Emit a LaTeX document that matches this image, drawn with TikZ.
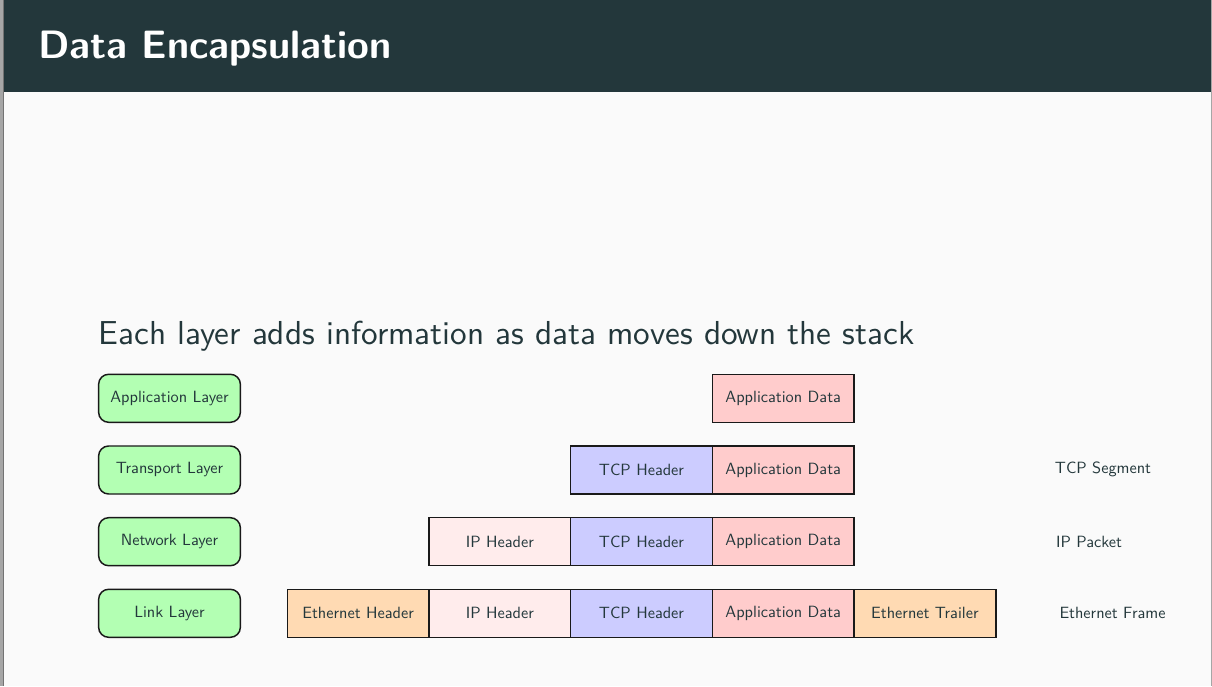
\documentclass[tikz,border=0pt]{standalone}
\usepackage{fontspec}
\newfontfamily\lmsten{lmsans10-regular.otf}[BoldFont=lmsans10-bold.otf]
\usetikzlibrary{positioning}
\definecolor{mteal}{HTML}{23373B}
\definecolor{pagebg}{HTML}{FAFAFA}
\definecolor{layerfill}{HTML}{B3FFB3}
\definecolor{appfill}{HTML}{FFCCCC}
\definecolor{tcpfill}{HTML}{CCCCFF}
\definecolor{ipfill}{HTML}{FFECEC}
\definecolor{ethfill}{HTML}{FFDAB3}
\definecolor{edgegray}{HTML}{A6A6A6}
\tikzset{
  boxfont/.style={font=\lmsten\fontsize{12.2}{14}\selectfont, text=mteal},
  layerbox/.style={boxfont, draw=black!90, line width=1.1pt, fill=layerfill,
    rounded corners=7.5pt, minimum width=106.3pt, minimum height=36pt,
    inner sep=0pt, outer sep=0pt},
  databox/.style={boxfont, draw=black!90, line width=1.1pt,
    minimum width=106.3pt, minimum height=36pt, inner sep=0pt, outer sep=0pt},
  appbox/.style={databox, fill=appfill},
  tcpbox/.style={databox, fill=tcpfill},
  ipbox/.style={databox, fill=ipfill},
  ethbox/.style={databox, fill=ethfill},
  unitlabel/.style={boxfont, inner sep=0pt},
}
\begin{document}
\begin{tikzpicture}[x=0.75pt, y=-0.75pt]
  % page frame
  \useasboundingbox (0,0) rectangle (1212,686);
  \fill[edgegray] (0,0) rectangle (1212,686);
  \fill[pagebg] (3.6,0) rectangle (1210.6,686);
  \fill[black!55] (2.8,0) rectangle (3.6,686);
  % title bar
  \fill[mteal] (3.6,0) rectangle (1210.6,92);
  \node[anchor=base west, inner sep=0pt, text=white,
        font=\lmsten\bfseries\fontsize{29.7}{34}\selectfont] (title) at (38,58.3) {Data Encapsulation};
  % subtitle
  \node[anchor=base west, inner sep=0pt, text=mteal,
        font=\lmsten\fontsize{24.9}{29}\selectfont] (sub) at (98.5,344.3) {Each layer adds information as data moves down the stack};
  % layer boxes
  \node[layerbox] (L1) at (169.5,398.3) {Application Layer};
  \node[layerbox] (L2) at (169.5,470) {Transport Layer};
  \node[layerbox] (L3) at (169.5,541.7) {Network Layer};
  \node[layerbox] (L4) at (169.5,613.3) {Link Layer};
  % row 1
  \node[appbox] (A1) at (783.2,398.3) {Application Data};
  % row 2
  \node[tcpbox] (T2) at (641.5,470) {TCP Header};
  \node[appbox] (A2) at (783.2,470) {Application Data};
  % row 3
  \node[ipbox]  (I3) at (499.8,541.7) {IP Header};
  \node[tcpbox] (T3) at (641.5,541.7) {TCP Header};
  \node[appbox] (A3) at (783.2,541.7) {Application Data};
  % row 4
  \node[ethbox] (E4) at (358.1,613.3) {Ethernet Header};
  \node[ipbox]  (I4) at (499.8,613.3) {IP Header};
  \node[tcpbox] (T4) at (641.5,613.3) {TCP Header};
  \node[appbox] (A4) at (783.2,613.3) {Application Data};
  \node[ethbox] (R4) at (924.9,613.3) {Ethernet Trailer};
  % unit labels
  \node[unitlabel] (seg) at (1103,469) {TCP Segment};
  \node[unitlabel] (pkt) at (1089,541.5) {IP Packet};
  \node[unitlabel] (frm) at (1112.5,613) {Ethernet Frame};
\end{tikzpicture}
\end{document}
